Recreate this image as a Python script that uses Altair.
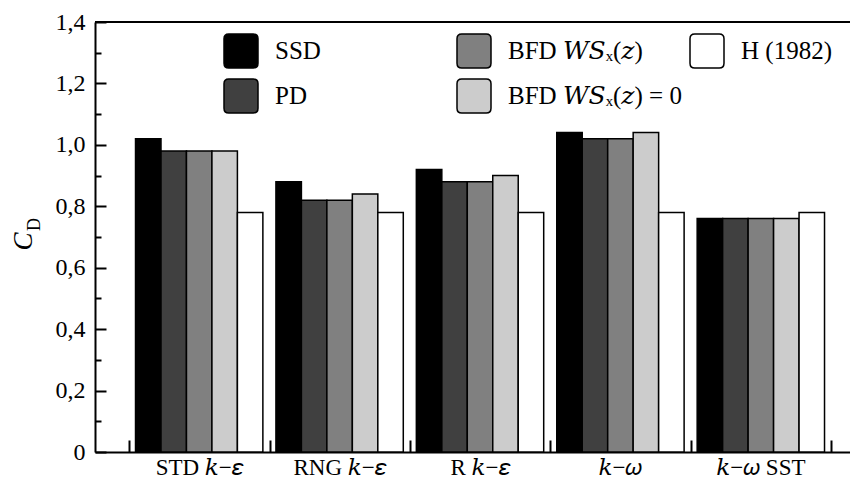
import altair as alt
import pandas as pd

# ---- data ----
models = ["STD 𝑘−𝜀", "RNG 𝑘−𝜀", "R 𝑘−𝜀", "𝑘−𝜔", "𝑘−𝜔 SST"]
series = ["SSD", "PD", "BFD 𝑊𝑆ₓ(𝑧)", "BFD 𝑊𝑆ₓ(𝑧) = 0", "H (1982)"]
ssd = [1.02, 0.88, 0.92, 1.04, 0.76]
pd_vals = [0.98, 0.82, 0.88, 1.02, 0.76]
bfd = [0.98, 0.82, 0.88, 1.02, 0.76]
bfd0 = [0.98, 0.84, 0.90, 1.04, 0.76]
h1982 = [0.78, 0.78, 0.78, 0.78, 0.78]
colors = ["#000000", "#404040", "#808080", "#cccccc", "#ffffff"]
y_major = [0, 0.2, 0.4, 0.6, 0.8, 1.0, 1.2, 1.4]
y_minor = [0.1, 0.3, 0.5, 0.7, 0.9, 1.1, 1.3]
x_bounds = [0.5, 1.5, 2.5, 3.5, 4.5, 5.5]

values = [ssd, pd_vals, bfd, bfd0, h1982]
rows = []
for s, vals in zip(series, values):
    for m, v in zip(models, vals):
        rows.append({"model": m, "series": s, "value": v})
df = pd.DataFrame(rows)

W, H = 755, 430
FONT = "Liberation Serif, DejaVu Serif"
ydomain = [0, 1.4]
rounded = "M-0.72,-1H0.72Q1,-1 1,-0.72V0.72Q1,1 0.72,1H-0.72Q-1,1 -1,0.72V-0.72Q-1,-1 -0.72,-1Z"

bars = alt.Chart(df).mark_bar(stroke="black", strokeWidth=1.5).encode(
    x=alt.X("model:N", sort=models,
            scale=alt.Scale(paddingInner=0.093, paddingOuter=0.235, align=0.614, round=False),
            axis=alt.Axis(orient="bottom", title=None, ticks=False, tickSize=0, labelPadding=4,
                          labelAngle=0, labelFont=FONT, labelFontSize=23, labelColor="black",
                          domainWidth=2, domainColor="black")),
    xOffset=alt.XOffset("series:N", sort=series,
                        scale=alt.Scale(paddingInner=0, paddingOuter=0)),
    y=alt.Y("value:Q", scale=alt.Scale(domain=ydomain, nice=False),
            axis=alt.Axis(orient="left", values=y_major, grid=False, ticks=False, tickSize=0,
                          labelPadding=10, labelFont=FONT, labelFontSize=24, labelColor="black",
                          labelExpr="datum.value == 0 ? '0' : replace(format(datum.value, '.1f'), '.', ',')",
                          domainWidth=2, domainColor="black",
                          title="C", titleFont=FONT, titleFontSize=27, titleFontStyle="italic",
                          titleFontWeight="normal", titleColor="black", titleAngle=270,
                          titleX=-72, titleY=219, titleAlign="center", titleBaseline="middle")),
    fill=alt.Fill("series:N", scale=alt.Scale(domain=series, range=colors),
                  legend=alt.Legend(title=None, orient="none", legendX=128, legendY=11,
                                    columns=3, gridAlign="all", columnPadding=5, rowPadding=5,
                                    symbolType=rounded, symbolSize=1156, symbolStrokeColor="black",
                                    symbolStrokeWidth=1.5, symbolOpacity=1,
                                    labelFont=FONT, labelFontSize=25, labelColor="black",
                                    labelOffset=16, labelLimit=0, padding=0)),
)

ydf = pd.DataFrame({"v": [1.4]})
top_major = alt.Chart(ydf).mark_rule(color="black", strokeWidth=2).encode(
    y=alt.Y("v:Q", scale=alt.Scale(domain=ydomain, nice=False),
            axis=alt.Axis(orient="right", offset=-W, values=y_major, labels=False, domain=False,
                          grid=False, ticks=True, tickSize=11, tickWidth=2, tickColor="black",
                          title="D", titleFont=FONT, titleFontSize=18, titleFontWeight="normal",
                          titleColor="black", titleAngle=270, titleX=-61, titleY=202,
                          titleAlign="center", titleBaseline="middle")),
)
minor = alt.Chart(ydf).mark_rule(color="black", strokeWidth=2).encode(
    y=alt.Y("v:Q", scale=alt.Scale(domain=ydomain, nice=False),
            axis=alt.Axis(orient="right", offset=-W, values=y_minor, labels=False, domain=False,
                          grid=False, ticks=True, tickSize=6, tickWidth=2, tickColor="black",
                          title=None)),
)

bdf = pd.DataFrame({"b": x_bounds})
bticks = alt.Chart(bdf).mark_rule(opacity=0).encode(
    x=alt.X("b:Q", scale=alt.Scale(domain=[0.2568, 5.6343], nice=False, zero=False),
            axis=alt.Axis(orient="top", offset=-H, values=x_bounds, labels=False, domain=False,
                          grid=False, ticks=True, tickSize=12, tickWidth=2, tickColor="black",
                          title=None)),
)

chart = alt.layer(bars, top_major, minor, bticks).resolve_scale(
    x="independent"
).resolve_axis(
    x="independent", y="independent"
).properties(
    width=W, height=H,
    autosize=alt.AutoSizeParams(type="none"),
    padding={"left": 87, "top": 14, "right": 0, "bottom": 28},
).configure_view(stroke=None).configure(background="white")

chart.save("out.html", embed_options={"renderer": "svg", "actions": False})
